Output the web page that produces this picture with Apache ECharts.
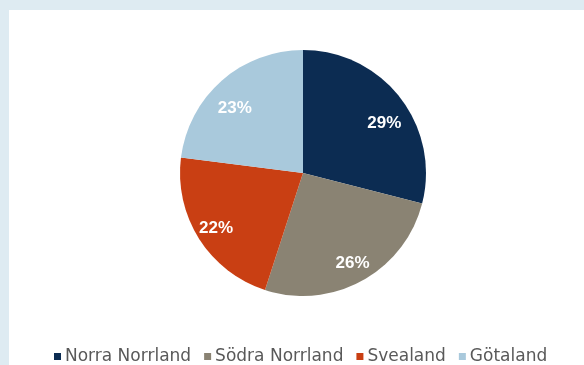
<!DOCTYPE html>
<html>
<head>
<meta charset="utf-8">
<script src="https://cdn.jsdelivr.net/npm/echarts@6/dist/echarts.min.js"></script>
<style>
    html, body { margin: 0; padding: 0; width: 584px; height: 365px; background: #deebf2; overflow: hidden; }
    #panel { position: absolute; left: 9px; top: 10px; width: 575px; height: 355px; background: #ffffff; }
    #chart { width: 575px; height: 355px; }
</style>
</head>
<body>
<div id="panel"><div id="chart"></div></div>
<script>
    var regions = ['Norra Norrland', 'Södra Norrland', 'Svealand', 'Götaland'];
    var shares = [29, 26, 22, 23];
    var colors = ['#0c2c52', '#8a8373', '#c93f13', '#a9c9dc'];

    var pieCenter = [294, 163];

    var pieData = regions.map(function (name, i) {
        return { name: name, value: shares[i], itemStyle: { color: colors[i] } };
    });

    var chart = echarts.init(document.getElementById('chart'));

    chart.setOption({
        animation: false,
        legend: {
            top: 333,
            left: 40,
            icon: 'rect',
            itemWidth: 7,
            itemHeight: 7,
            itemGap: 13,
            textStyle: { color: '#595959', fontSize: 17, fontFamily: 'DejaVu Sans, sans-serif', padding: [0, 0, 0, -1] },
            data: regions
        },
        series: [
            {
                type: 'pie',
                center: pieCenter,
                radius: [0, 123],
                startAngle: 90,
                clockwise: true,
                label: { show: false },
                labelLine: { show: false },
                itemStyle: { borderWidth: 0 },
                emphasis: { disabled: true },
                data: pieData
            },
            {
                // transparent ring, only there to put the labels further out
                type: 'pie',
                center: pieCenter,
                radius: [77, 123],
                startAngle: 90,
                silent: true,
                legendHoverLink: false,
                itemStyle: { color: 'rgba(0,0,0,0)', borderWidth: 0 },
                label: {
                    show: true,
                    position: 'inside',
                    formatter: '{c}%',
                    color: '#ffffff',
                    fontWeight: 'bold',
                    fontSize: 17,
                    fontFamily: 'Liberation Sans, Arial, sans-serif'
                },
                // labels in the upper half sit a bit lower in the original
                labelLayout: function (p) {
                    var mid = p.labelRect.y + p.labelRect.height / 2;
                    return mid < pieCenter[1] ? { dy: 13 } : {};
                },
                labelLine: { show: false },
                emphasis: { disabled: true },
                data: regions.map(function (name, i) {
                    return { name: name + ' ', value: shares[i] };
                })
            }
        ]
    });
</script>
</body>
</html>
